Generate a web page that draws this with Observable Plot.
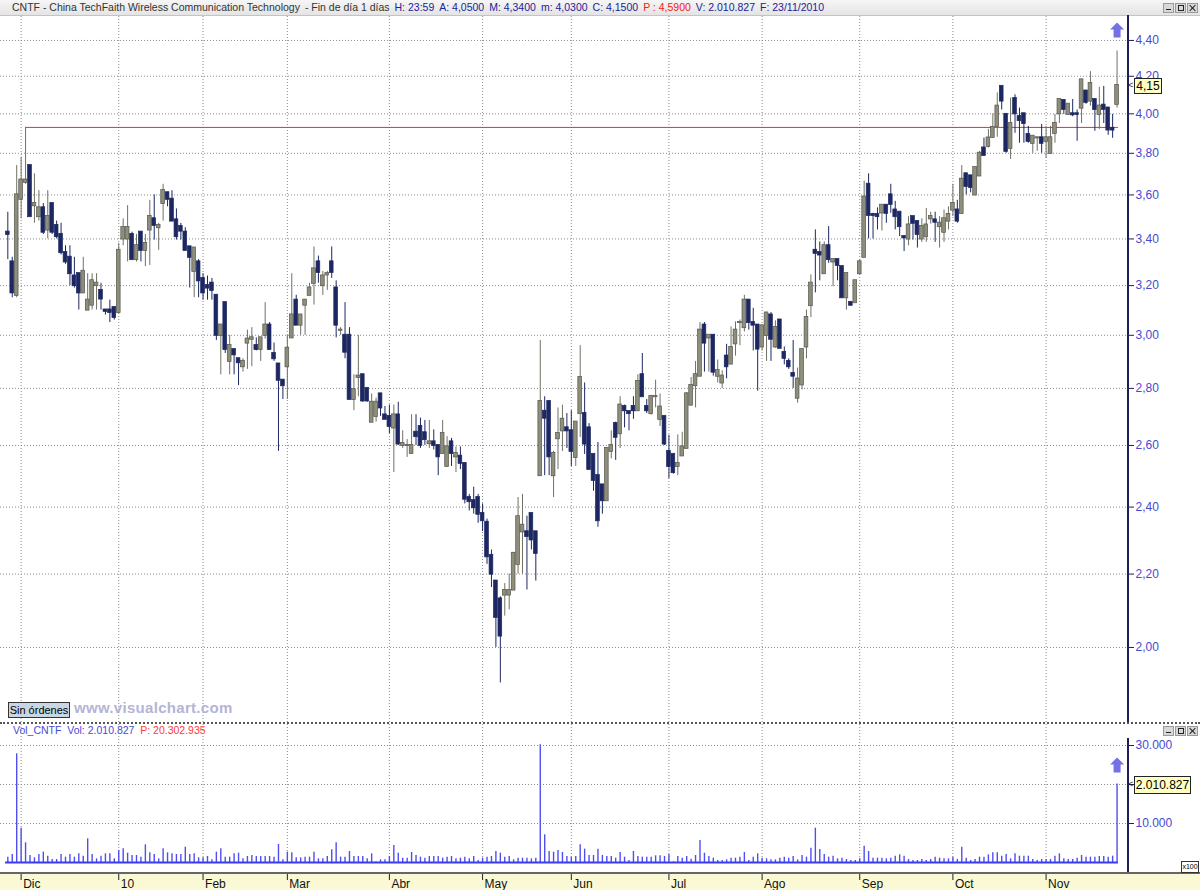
<!DOCTYPE html>
<html><head><meta charset="utf-8">
<script src="https://cdn.jsdelivr.net/npm/d3@7"></script>
<script src="https://cdn.jsdelivr.net/npm/@observablehq/plot@0.6"></script>
<style>
html,body{margin:0;background:#fff;font-family:"Liberation Sans",Arial,sans-serif;overflow:hidden;}
#wrap{position:relative;width:1200px;height:890px;overflow:hidden;background:#fff;}
.abs{position:absolute;}
#title{left:0;top:0;width:1200px;height:15px;background:linear-gradient(#f6f6f6,#e4e4e4);border-bottom:1px solid #c4c4c4;font-size:10.5px;line-height:15px;white-space:nowrap;}
#tline{position:absolute;left:12px;top:0;display:flex;gap:5px;}
.q{color:#22229a;}
.btns{display:flex;gap:1px;}
.btn{position:relative;width:9px;height:8px;background:#d8d8d8;border:1px solid #9a9a9a;}
.btn i{position:absolute;display:block;}
.vbox{background:#ffffc4;border:1px solid #222;color:#000;text-align:center;font-size:12px;}
</style></head>
<body><div id="wrap">
<div id="title" class="abs">
<div id="tline"><span style="color:#333">CNTF - China TechFaith Wireless Communication Technology</span><span style="color:#333">- Fin de día 1 días</span><span class="q">H: 23:59</span><span class="q">A: 4,0500</span><span class="q">M: 4,3400</span><span class="q">m: 4,0300</span><span class="q">C: 4,1500</span><span style="color:#f02020">P : 4,5900</span><span class="q">V: 2.010.827</span><span class="q">F: 23/11/2010</span></div>
<div class="abs btns" style="left:1163px;top:3px">
 <div class="btn"><i style="left:2px;top:5px;width:5px;height:1px;background:#222"></i></div>
 <div class="btn"><i style="left:2px;top:1px;width:4px;height:4px;border:1px solid #222"></i></div>
 <div class="btn"><i style="left:4px;top:0px;width:1px;height:8px;background:#222;transform:rotate(45deg)"></i><i style="left:4px;top:0px;width:1px;height:8px;background:#222;transform:rotate(-45deg)"></i></div>
</div></div>
<div id="price" class="abs" style="left:0;top:16px"></div>
<div class="abs" style="left:1127px;top:15px;width:2px;height:708px;background:#1e1e58"></div>
<div class="abs" style="left:8px;top:702px;width:60px;height:14px;background:#c9d7e4;border:1px solid #333;font-size:11px;line-height:14px;text-align:center;color:#000">Sin órdenes</div>
<div class="abs" style="left:74px;top:699px;font-size:15px;font-weight:bold;color:#b4b4d6;letter-spacing:0.3px">www.visualchart.com</div>
<div class="abs" style="left:0;top:722px;width:1200px;height:0;border-top:2px dotted #555"></div>
<div class="abs" style="left:13px;top:724px;font-size:10.5px;line-height:13px;white-space:pre"><span style="color:#4a4ad8">Vol_CNTF  Vol: 2.010.827  </span><span style="color:#ff3a3a">P: 20.302.935</span></div>
<div class="abs btns" style="left:1163px;top:726px">
 <div class="btn"><i style="left:2px;top:5px;width:5px;height:1px;background:#222"></i></div>
 <div class="btn"><i style="left:2px;top:1px;width:4px;height:4px;border:1px solid #222"></i></div>
 <div class="btn"><i style="left:4px;top:0px;width:1px;height:8px;background:#222;transform:rotate(45deg)"></i><i style="left:4px;top:0px;width:1px;height:8px;background:#222;transform:rotate(-45deg)"></i></div>
</div>
<div class="abs" style="left:0;top:873px;width:1200px;height:17px;background:#fbf8d6"></div>
<div id="volume" class="abs" style="left:0;top:724px"></div>
<div class="abs" style="left:1127px;top:738px;width:2px;height:135px;background:#1e1e58"></div>
<div class="abs" style="left:0;top:872px;width:1200px;height:0;border-top:2px solid #666"></div>
<div class="abs" style="left:1181px;top:861px;width:16px;height:10px;background:#fff;border:1px solid #333;font-size:7px;line-height:10px;text-align:center;overflow:hidden">x100</div>
</div>
<script>
// ---------- data (index 0 = 25 Nov 2009 ... index 250 = 23 Nov 2010) ----------
const opens = [3.43,3.30,3.16,3.58,3.66,3.74,3.55,3.50,3.54,3.44,3.56,3.46,3.42,3.34,3.32,3.24,3.25,3.17,3.10,3.12,3.20,3.18,3.10,3.10,3.11,
3.09,3.40,3.40,3.42,3.31,3.43,3.35,3.44,3.49,3.45,3.56,3.61,3.58,3.485,3.455,3.43,3.365,3.26,3.30,
3.23,3.20,3.21,3.16,3.00,3.13,2.90,2.945,2.91,2.88,2.97,2.985,2.96,2.945,3.00,3.04,2.93,2.89,2.83,
2.88,2.99,3.14,3.04,3.12,3.16,3.21,3.30,3.20,3.245,3.30,3.19,3.02,3.00,3.00,2.76,2.84,2.85,2.80,2.68,2.70,2.78,2.705,2.70,
2.66,2.705,2.60,2.60,2.573,2.645,2.665,2.643,2.606,2.612,2.60,2.573,2.53,2.612,2.562,2.564,2.54,2.43,2.42,2.43,
2.38,2.353,2.254,2.18,2.13,2.141,2.141,2.155,2.228,2.324,2.324,2.38,2.324,2.50,2.718,2.753,2.50,2.623,2.65,2.66,
2.65,2.56,2.71,2.71,2.66,2.57,2.50,2.47,2.42,2.58,2.675,2.64,2.735,2.717,2.735,2.72,2.85,2.735,2.71,2.77,2.69,2.70,
2.58,2.57,2.53,2.565,2.59,2.74,2.81,2.845,3.04,2.99,3.00,2.845,2.82,2.92,2.89,2.967,3.05,3.03,3.14,3.05,3.04,
2.955,3.00,3.08,2.955,3.06,2.934,2.90,2.855,2.765,2.813,2.955,3.118,3.35,3.34,3.25,3.37,3.30,3.31,3.28,3.15,3.13,3.13,
3.25,3.32,3.65,3.51,3.51,3.517,3.552,3.60,3.53,3.52,3.41,3.40,3.50,3.478,3.40,3.41,3.49,3.485,3.455,3.43,3.48,
3.53,3.53,3.515,3.70,3.69,3.60,3.69,3.826,3.835,3.88,3.935,4.145,3.997,3.825,4.08,3.985,4.00,3.894,3.85,3.877,3.877,
3.86,3.80,3.90,4.00,4.07,3.997,4.00,4.00,4.03,4.12,4.067,4.075,3.997,4.045,4.03,3.925,4.05];
const highs = [3.52,3.32,3.74,3.78,3.93,3.74,3.70,3.62,3.56,3.62,3.56,3.48,3.47,3.37,3.37,3.32,3.25,3.32,3.25,3.25,3.25,3.21,3.10,3.14,3.11,
3.38,3.49,3.55,3.43,3.42,3.43,3.42,3.575,3.60,3.47,3.65,3.61,3.62,3.535,3.47,3.45,3.365,3.36,3.31,
3.25,3.24,3.23,3.16,3.04,3.13,3.00,2.945,2.91,2.91,3.02,3.03,2.99,2.99,3.13,3.05,2.97,2.89,2.83,
3.00,3.25,3.16,3.08,3.14,3.21,3.365,3.325,3.26,3.26,3.365,3.22,3.03,3.13,3.03,2.85,3.00,2.85,2.80,2.78,2.765,2.78,2.735,2.74,
2.74,2.75,2.65,2.62,2.706,2.706,2.694,2.686,2.686,2.653,2.60,2.686,2.63,2.624,2.595,2.595,2.54,2.44,2.463,2.44,
2.41,2.363,2.27,2.18,2.136,2.173,2.20,2.263,2.43,2.44,2.372,2.38,2.324,2.98,2.77,2.753,2.58,2.73,2.74,2.71,
2.72,2.68,2.96,2.82,2.675,2.57,2.61,2.47,2.59,2.65,2.68,2.77,2.74,2.718,2.77,2.85,2.93,2.76,2.775,2.83,2.78,2.70,
2.635,2.57,2.636,2.645,2.785,2.84,2.90,3.05,3.05,3.00,3.00,2.905,2.865,2.965,3.033,3.053,3.06,3.16,3.14,3.107,3.04,
3.04,3.09,3.09,3.057,3.06,2.955,2.91,2.98,2.875,2.945,3.10,3.245,3.44,3.387,3.387,3.455,3.31,3.31,3.28,3.25,3.135,3.22,
3.31,3.665,3.70,3.515,3.54,3.552,3.555,3.65,3.57,3.52,3.415,3.50,3.50,3.478,3.49,3.537,3.52,3.52,3.50,3.53,3.545,
3.65,3.575,3.74,3.70,3.69,3.73,3.81,3.876,3.92,4.00,4.11,4.145,4.00,4.083,4.10,4.03,4.00,3.935,3.885,3.88,3.945,
3.935,3.935,3.997,4.075,4.07,4.05,4.075,4.02,4.18,4.12,4.225,4.075,4.14,4.145,4.03,3.997,4.34];
const lows = [3.31,3.15,3.15,3.49,3.65,3.50,3.47,3.48,3.42,3.40,3.42,3.40,3.33,3.29,3.20,3.19,3.10,3.17,3.10,3.10,3.10,3.10,3.08,3.05,3.06,
3.085,3.37,3.30,3.31,3.30,3.30,3.28,3.285,3.395,3.35,3.48,3.545,3.48,3.395,3.395,3.35,3.19,3.15,3.15,
3.14,3.14,3.14,2.98,2.85,2.93,2.85,2.85,2.81,2.86,2.87,2.88,2.94,2.90,2.985,2.945,2.90,2.58,2.76,
2.76,2.99,3.04,3.00,3.00,3.16,3.12,3.21,3.16,3.18,3.23,2.99,3.00,2.91,2.76,2.72,2.77,2.75,2.75,2.68,2.68,2.70,2.69,2.64,
2.51,2.60,2.59,2.56,2.573,2.60,2.59,2.60,2.59,2.585,2.50,2.573,2.53,2.53,2.51,2.52,2.41,2.388,2.378,2.35,
2.325,2.228,2.162,2.00,1.91,2.083,2.10,2.155,2.20,2.20,2.155,2.27,2.18,2.50,2.50,2.50,2.43,2.52,2.58,2.59,
2.53,2.53,2.627,2.57,2.52,2.45,2.338,2.378,2.42,2.555,2.55,2.59,2.66,2.65,2.69,2.72,2.77,2.71,2.705,2.73,2.665,2.60,
2.49,2.505,2.50,2.565,2.59,2.74,2.73,2.845,2.86,2.86,2.845,2.82,2.80,2.835,2.89,2.92,2.96,3.013,3.02,2.94,2.79,
2.94,2.90,2.90,2.95,2.95,2.887,2.87,2.80,2.747,2.795,2.91,3.07,3.17,3.22,3.25,3.294,3.195,3.22,3.15,3.10,3.115,3.13,
3.245,3.32,3.40,3.40,3.44,3.435,3.47,3.515,3.44,3.41,3.345,3.37,3.395,3.36,3.385,3.385,3.466,3.385,3.36,3.385,3.44,
3.50,3.47,3.51,3.60,3.61,3.60,3.69,3.785,3.826,3.875,3.88,4.02,3.80,3.77,3.90,3.85,3.85,3.85,3.80,3.81,3.80,
3.775,3.80,3.85,3.95,3.997,3.995,3.985,3.86,3.95,4.05,4.04,3.91,3.92,3.95,3.89,3.875,4.03];
const closes = [3.42,3.17,3.60,3.67,3.67,3.50,3.56,3.54,3.43,3.50,3.43,3.41,3.34,3.30,3.25,3.20,3.17,3.26,3.14,3.22,3.21,3.145,3.095,3.09,3.07,
3.35,3.45,3.45,3.31,3.37,3.35,3.38,3.50,3.46,3.46,3.62,3.58,3.48,3.41,3.435,3.35,3.32,3.36,3.22,
3.17,3.19,3.18,3.00,3.04,2.945,2.96,2.925,2.895,2.90,2.985,2.99,2.945,2.99,3.04,2.945,2.91,2.83,2.81,
2.95,3.08,3.04,3.08,3.14,3.19,3.27,3.255,3.24,3.25,3.255,3.04,3.02,2.935,2.76,2.795,2.845,2.755,2.755,2.75,2.75,2.73,2.69,2.665,
2.705,2.605,2.606,2.60,2.60,2.63,2.60,2.62,2.612,2.60,2.562,2.64,2.595,2.573,2.573,2.54,2.425,2.417,2.398,2.378,
2.358,2.25,2.20,2.08,2.03,2.153,2.153,2.26,2.37,2.344,2.31,2.30,2.26,2.753,2.694,2.562,2.573,2.64,2.69,2.65,
2.58,2.68,2.84,2.605,2.52,2.485,2.358,2.42,2.59,2.60,2.628,2.74,2.72,2.71,2.72,2.825,2.77,2.72,2.77,2.77,2.733,2.605,
2.53,2.51,2.54,2.595,2.78,2.81,2.85,3.02,2.97,3.00,2.86,2.865,2.845,2.88,2.953,3.02,3.05,3.14,3.05,3.04,2.947,
3.037,3.088,2.985,3.03,2.95,2.912,2.88,2.845,2.834,2.945,3.07,3.21,3.337,3.33,3.37,3.31,3.31,3.285,3.15,3.25,3.12,3.22,
3.30,3.59,3.505,3.505,3.50,3.552,3.515,3.556,3.50,3.455,3.405,3.462,3.47,3.42,3.455,3.462,3.50,3.475,3.47,3.49,3.51,
3.56,3.48,3.674,3.64,3.635,3.73,3.80,3.79,3.876,3.93,4.04,4.067,3.81,3.95,4.00,3.965,3.95,3.86,3.885,3.877,3.85,
3.877,3.877,3.95,4.075,4.023,4.05,3.995,3.997,4.18,4.06,4.16,4.023,4.04,4.023,3.917,3.917,4.15];
// volume in hundreds of shares (axis shows x100)
const volumes = [1370,2050,27870,8800,5040,1800,1200,2050,2650,1620,770,770,2050,1370,2050,1370,2220,1620,6070,2050,940,1620,2220,2220,940,
3080,3500,2390,1800,1800,1370,4530,2480,2050,940,3500,2480,2220,2050,2050,3930,2050,2220,1200,
1200,1540,680,2650,3500,1370,1370,2220,2390,940,1540,1800,1540,1540,1540,1540,1370,4620,680,
2650,2480,1200,1200,1370,1370,2650,940,940,1540,3250,5040,1370,1370,2820,1540,1540,1540,940,2220,100,680,680,1540,
4360,2390,1110,1110,2570,1800,1370,1110,1540,1540,1540,1110,1370,1540,940,1110,1370,940,1540,510,
1110,1370,1540,2820,2390,1370,1540,680,1110,1110,1110,940,1110,30180,7100,2820,2650,3080,2570,1540,
1370,1540,4530,3420,1800,1800,3420,1800,1540,1540,1110,2570,1370,510,2820,1540,1370,1370,1370,1710,1710,1540,
2050,170,1540,1110,1540,860,1800,5640,2390,1540,1110,510,510,680,1110,1110,1370,2570,510,1370,2220,
1110,940,680,680,1110,1370,1110,1540,680,1800,1370,3680,8800,3330,2050,1370,1620,940,1110,770,510,510,
940,4190,2820,1110,1110,1110,940,1110,1620,1970,1620,770,510,510,770,510,770,1370,1110,940,940,
1370,770,3930,1110,510,770,1370,1370,1970,2480,2480,1620,2050,940,2220,1620,1620,1620,770,510,770,
770,770,1620,2220,940,770,770,1110,1800,1370,1370,1370,1540,1540,1370,1620,20108.27];
const monthIdx = [3,25,44,63,86,107,127,149,170,192,213,234];
const monthLabels = ["Dic","10","Feb","Mar","Abr","May","Jun","Jul","Ago","Sep","Oct","Nov"];
const priceTicks = [2.0,2.2,2.4,2.6,2.8,3.0,3.2,3.4,3.6,3.8,4.0,4.2,4.4];
const volGrid = [10000,20000,30000];
const volLabels = [10000,30000];   // 20.000 is hidden behind the value box in the reference
const resistance = 3.93;      // level of the 2 Dec 2009 high
const resistanceFrom = 4;     // index of that candle

// ---------- build ----------
const n = closes.length;
const last = n - 1;
const candles = closes.map((c, i) => ({i, o: opens[i], h: highs[i], l: lows[i], c}));
const volRows = volumes.map((v, i) => ({i, v}));
const NAVY = "#1d2862", GRAYF = "#8e8e7c", GRAYW = "#707064";
const xDomain = [-1.65, last + 2.35];
const fmtPrice = d => d3.format(".2f")(d).replace(".", ",");
const loc = d3.formatLocale({decimal: ",", thousands: ".", grouping: [3], currency: ["", ""]});
const fmtInt = loc.format(",d");
const arrowUp = {draw(ctx) {
  ctx.moveTo(0, -8); ctx.lineTo(7, -1); ctx.lineTo(3.5, -1); ctx.lineTo(3.5, 7);
  ctx.lineTo(-3.5, 7); ctx.lineTo(-3.5, -1); ctx.lineTo(-7, -1); ctx.closePath();
}};
const baseStyle = {background: "transparent", overflow: "visible", fontFamily: "Liberation Sans, Arial, sans-serif", fontSize: "12px"};

const price = Plot.plot({
  width: 1200, height: 707,
  marginLeft: 0, marginRight: 73, marginTop: 0, marginBottom: 0,
  style: baseStyle,
  x: {domain: xDomain, axis: null, label: null},
  y: {type: "log", domain: [1.8119, 4.539], axis: null, label: null},
  marks: [
    Plot.ruleY(priceTicks, {stroke: "#8c8c8c", strokeDasharray: "1,2"}),
    Plot.ruleX(monthIdx, {stroke: "#8c8c8c", strokeDasharray: "1,2"}),
    Plot.ruleY([resistance], {x1: resistanceFrom, x2: last + 0.3, stroke: "#ee2a30", strokeWidth: 1}),
    Plot.ruleX(candles, {x: "i", y1: "l", y2: "h", stroke: d => d.c >= d.o ? GRAYW : NAVY, strokeWidth: 1}),
    Plot.rect(candles, {x1: d => d.i - 0.42, x2: d => d.i + 0.42, y1: "o", y2: "c",
      fill: d => d.c >= d.o ? GRAYF : NAVY, stroke: d => d.c >= d.o ? "#55554c" : NAVY, strokeWidth: 0.7,
      insetTop: -0.6, insetBottom: -0.6}),
    Plot.axisY(priceTicks, {anchor: "right", label: null, tickSize: 6, tickPadding: 2, tickFormat: fmtPrice,
      fill: "#4848cf", stroke: "#1e1e58", fontSize: 12}),
    Plot.dot([last], {x: d => d, frameAnchor: "top", dy: 14, symbol: arrowUp, fill: "#7272e4", stroke: "none"})
  ]
});
document.getElementById("price").append(price);

const volume = Plot.plot({
  width: 1200, height: 166,
  marginLeft: 0, marginRight: 73, marginTop: 0, marginBottom: 28,
  style: baseStyle,
  x: {domain: xDomain, axis: null, label: null},
  y: {domain: [0, 35385], axis: null, label: null},
  marks: [
    Plot.ruleY(volGrid, {stroke: "#8c8c8c", strokeDasharray: "1,2"}),
    Plot.ruleX(monthIdx, {stroke: "#8c8c8c", strokeDasharray: "1,2"}),
    Plot.ruleX(volRows, {x: "i", y: "v", stroke: "#4f4ff0", strokeWidth: 1.4}),
    Plot.ruleY([0], {x1: -0.5, x2: last + 0.3, stroke: "#3a3aee", strokeWidth: 2}),
    Plot.axisY(volGrid, {anchor: "right", label: null, tickSize: 6, tickFormat: () => "", stroke: "#1e1e58"}),
    Plot.axisY(volLabels, {anchor: "right", label: null, tickSize: 0, tickPadding: 8, tickFormat: fmtInt,
      fill: "#4848cf", fontSize: 12}),
    Plot.axisX(monthIdx, {anchor: "bottom", label: null, tickSize: 7, dy: 11, tickFormat: () => "", stroke: "#222"}),
    Plot.axisX(monthIdx, {anchor: "bottom", label: null, tickSize: 0, tickPadding: 0, dy: 17, dx: 2, textAnchor: "start",
      tickFormat: d => monthLabels[monthIdx.indexOf(d)], fill: "#111", fontSize: 12}),
    Plot.dot([last], {x: d => d, frameAnchor: "top", dy: 41, symbol: arrowUp, fill: "#7272e4", stroke: "none"})
  ]
});
document.getElementById("volume").append(volume);

// current-value boxes on the axes, positioned through the plots' own scales
const wrap = document.getElementById("wrap");
function valueBox(top, left, width, height, text) {
  const mark = document.createElement("div");
  mark.className = "abs";
  mark.style.cssText = `left:1128px;top:${top + height / 2 - 6}px;font-size:9px;color:#222;line-height:12px`;
  mark.textContent = "<";
  const box = document.createElement("div");
  box.className = "abs vbox";
  box.style.cssText += `left:${left}px;top:${top}px;width:${width}px;height:${height}px;line-height:${height}px`;
  box.textContent = text;
  wrap.append(mark, box);
}
const py = 16 + price.scale("y").apply(closes[last]);
valueBox(Math.round(py - 7), 1134, 26, 14, fmtPrice(closes[last]));
const vy = 724 + volume.scale("y").apply(volumes[last]);
valueBox(Math.round(vy - 8), 1134, 55, 16, fmtInt(Math.round(volumes[last] * 100)));
</script>
</body></html>
